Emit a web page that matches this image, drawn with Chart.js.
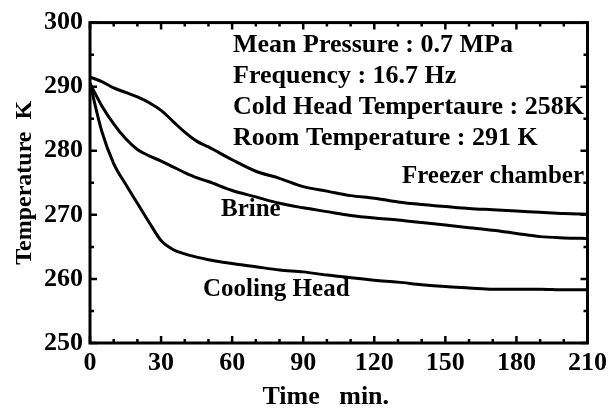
<!DOCTYPE html>
<html>
<head>
<meta charset="utf-8">
<script src="https://cdn.jsdelivr.net/npm/chart.js@4.4.0/dist/chart.umd.min.js"></script>
<style>
  html, body { margin: 0; padding: 0; background: #fff; }
  #wrap { width: 612px; height: 410px; }
</style>
</head>
<body>
<div id="wrap"><canvas id="chart" width="612" height="410"></canvas></div>
<script>
// time in minutes
const times = [0, 5, 10, 15, 20, 25, 30, 35, 40, 45, 50, 60, 70, 80, 90, 100, 110, 120, 130, 140, 150, 160, 170, 180, 190, 200, 210];

// temperatures in K
const freezerChamber = [291.5, 290.8, 289.8, 289.1, 288.4, 287.5, 286.3, 284.6, 282.9, 281.5, 280.6, 278.6, 276.8, 275.7, 274.4, 273.7, 273.0, 272.6, 272.0, 271.6, 271.3, 271.0, 270.8, 270.6, 270.4, 270.2, 270.1];
const brine = [290.5, 287.0, 284.2, 281.9, 280.2, 279.2, 278.4, 277.5, 276.6, 275.8, 275.2, 273.8, 272.8, 271.8, 271.1, 270.5, 269.9, 269.5, 269.2, 268.8, 268.4, 268.0, 267.6, 267.1, 266.6, 266.4, 266.3];
const coolingHead = [290.5, 283.0, 278.0, 274.8, 271.8, 268.8, 266.0, 264.6, 263.9, 263.4, 263.0, 262.4, 261.9, 261.4, 261.1, 260.6, 260.2, 259.8, 259.5, 259.1, 258.8, 258.6, 258.4, 258.4, 258.4, 258.3, 258.3];

const xMajor = [0, 30, 60, 90, 120, 150, 180, 210];
const xMinor = [10, 20, 40, 50, 70, 80, 100, 110, 130, 140, 160, 170, 190, 200];
const yMajor = [250, 260, 270, 280, 290, 300];
const yMinor = [255, 265, 275, 285, 295];

const conditions = [
    "Mean Pressure : 0.7 MPa",
    "Frequency : 16.7 Hz",
    "Cold Head Tempertaure : 258K",
    "Room Temperature : 291 K"
];

const font = "'Liberation Serif', 'Times New Roman', serif";

function toPoints(ys) {
    return times.map((t, i) => ({ x: t, y: ys[i] }));
}

function curve(ys) {
    return {
        data: toPoints(ys),
        borderColor: "#000",
        borderWidth: 3,
        pointRadius: 0,
        fill: false,
        cubicInterpolationMode: "monotone"
    };
}

// frame with inward ticks on all four sides, plus the text notes
const framePlugin = {
    id: "frame",
    afterDraw(chart) {
        const ctx = chart.ctx;
        const area = chart.chartArea;
        const xs = chart.scales.x;
        const ys = chart.scales.y;
        ctx.save();
        ctx.strokeStyle = "#000";
        ctx.lineWidth = 3;
        ctx.strokeRect(area.left, area.top, area.right - area.left, area.bottom - area.top);

        ctx.lineWidth = 2.5;
        ctx.beginPath();
        const tickX = (vals, len) => vals.forEach(v => {
            const px = xs.getPixelForValue(v);
            ctx.moveTo(px, area.bottom); ctx.lineTo(px, area.bottom - len);
            ctx.moveTo(px, area.top); ctx.lineTo(px, area.top + len);
        });
        const tickY = (vals, len) => vals.forEach(v => {
            const py = ys.getPixelForValue(v);
            ctx.moveTo(area.left, py); ctx.lineTo(area.left + len, py);
            ctx.moveTo(area.right, py); ctx.lineTo(area.right - len, py);
        });
        tickX(xMajor, 7);
        tickX(xMinor, 4);
        tickY(yMajor, 7);
        tickY(yMinor, 4);
        ctx.stroke();

        ctx.fillStyle = "#000";
        ctx.textBaseline = "middle";
        ctx.textAlign = "left";
        ctx.font = "bold 26px " + font;
        conditions.forEach((s, i) => ctx.fillText(s, 233, 45 + i * 31));
        ctx.font = "bold 25px " + font;
        ctx.textAlign = "right";
        ctx.fillText("Freezer chamber", 584, 177);
        ctx.textAlign = "left";
        ctx.fillText("Brine", 221, 210);
        ctx.fillText("Cooling Head", 203, 290);
        ctx.restore();
    }
};

new Chart(document.getElementById("chart"), {
    type: "line",
    data: {
        datasets: [curve(freezerChamber), curve(brine), curve(coolingHead)]
    },
    options: {
        responsive: false,
        animation: false,
        layout: { padding: { top: 19, right: 20, left: 0, bottom: 0 } },
        plugins: {
            legend: { display: false },
            tooltip: { enabled: false }
        },
        scales: {
            x: {
                type: "linear",
                min: 0,
                max: 210,
                grid: { display: false, drawTicks: false },
                border: { display: false },
                ticks: {
                    stepSize: 30,
                    color: "#000",
                    padding: 5,
                    font: { family: font, size: 26, weight: "bold" }
                },
                title: {
                    display: true,
                    text: "Time   min.    ",
                    color: "#000",
                    padding: { top: 0, bottom: 0 },
                    font: { family: font, size: 26, weight: "bold", lineHeight: 1 }
                },
                afterFit(scale) { scale.height = 67; }
            },
            y: {
                min: 250,
                max: 300,
                grid: { display: false, drawTicks: false },
                border: { display: false },
                ticks: {
                    stepSize: 10,
                    color: "#000",
                    padding: 7,
                    font: { family: font, size: 26, weight: "bold" }
                },
                title: {
                    display: true,
                    text: "Temperature  K",
                    color: "#000",
                    padding: { top: 10, bottom: 0 },
                    font: { family: font, size: 24, weight: "bold" }
                },
                afterFit(scale) { scale.width = 90; }
            }
        }
    },
    plugins: [framePlugin]
});
</script>
</body>
</html>
